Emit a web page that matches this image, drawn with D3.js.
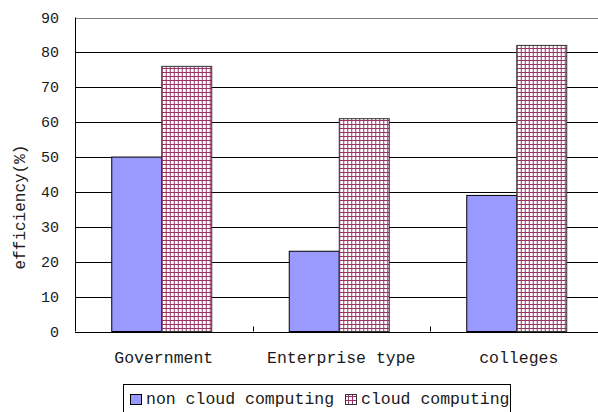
<!DOCTYPE html>
<html lang="en">
<head>
  <meta charset="UTF-8">
  <title>Efficiency chart</title>
  <script src="https://d3js.org/d3.v7.min.js"></script>
  <style>
    body { margin: 0; background: #fff; }
    svg { display: block; }
    text { font-family: "Liberation Mono", "DejaVu Sans Mono", monospace; fill: #1a1a1a; }
    .grid { stroke: #000; stroke-width: 1; shape-rendering: crispEdges; }
  </style>
</head>
<body>
  <div id="chart"></div>
  <script>
    const categories = ["Government", "Enterprise type", "colleges"];
    const seriesNames = ["non cloud computing", "cloud computing"];
    const nonCloud = [50, 23, 39];
    const cloud = [76, 61, 82];
    const yTicks = [0, 10, 20, 30, 40, 50, 60, 70, 80, 90];

    const width = 598, height = 412;
    const plot = { left: 75, top: 17.5, bottom: 331.5, right: 607.5 };

    const svg = d3.select("#chart").append("svg")
      .attr("width", width)
      .attr("height", height);

    const defs = svg.append("defs");
    const pat = defs.append("pattern")
      .attr("id", "grid")
      .attr("width", 4).attr("height", 4)
      .attr("patternUnits", "userSpaceOnUse");
    pat.append("rect").attr("width", 4).attr("height", 4).attr("fill", "#fff");
    pat.append("rect").attr("x", 0).attr("y", 0).attr("width", 4).attr("height", 1).attr("fill", "#993366");
    pat.append("rect").attr("x", 0).attr("y", 0).attr("width", 1).attr("height", 4).attr("fill", "#993366");

    const x = d3.scaleBand().domain(categories).range([plot.left, plot.right]).padding(0);
    const y = d3.scaleLinear().domain([0, 90]).range([plot.bottom, plot.top]);
    const barW = 50;

    // gridlines
    svg.selectAll(".grid")
      .data(yTicks.filter(d => d > 0 && d < 90))
      .enter().append("line")
      .attr("class", "grid")
      .attr("x1", plot.left).attr("x2", width)
      .attr("y1", d => Math.round(y(d)) + 0.5)
      .attr("y2", d => Math.round(y(d)) + 0.5);

    svg.append("line")
      .attr("x1", plot.left).attr("x2", width)
      .attr("y1", Math.round(y(90)) + 0.5).attr("y2", Math.round(y(90)) + 0.5)
      .attr("stroke", "#808080");

    // bars
    const groups = svg.selectAll(".cat")
      .data(categories)
      .enter().append("g")
      .attr("transform", d => `translate(${x(d) + x.bandwidth() / 2 - 2},0)`);

    groups.append("rect")
      .attr("x", -barW)
      .attr("y", (d, i) => y(nonCloud[i]))
      .attr("width", barW)
      .attr("height", (d, i) => plot.bottom - y(nonCloud[i]))
      .attr("fill", "#9999ff")
      .attr("stroke", "#000");

    groups.append("rect")
      .attr("x", 0)
      .attr("y", (d, i) => y(cloud[i]))
      .attr("width", barW)
      .attr("height", (d, i) => plot.bottom - y(cloud[i]))
      .attr("fill", "url(#grid)")
      .attr("stroke", "#333");

    // axes
    svg.append("line")
      .attr("x1", plot.left + 0.5).attr("x2", plot.left + 0.5)
      .attr("y1", plot.top).attr("y2", plot.bottom)
      .attr("stroke", "#000");
    svg.append("line")
      .attr("x1", plot.left).attr("x2", width)
      .attr("y1", Math.round(plot.bottom) + 0.5).attr("y2", Math.round(plot.bottom) + 0.5)
      .attr("stroke", "#000");

    svg.selectAll(".xtick")
      .data(categories.slice(1))
      .enter().append("line")
      .attr("x1", d => Math.round(x(d)) + 0.5).attr("x2", d => Math.round(x(d)) + 0.5)
      .attr("y1", plot.bottom - 5).attr("y2", plot.bottom)
      .attr("stroke", "#000");

    svg.selectAll(".ylab")
      .data(yTicks)
      .enter().append("text")
      .attr("x", 59)
      .attr("y", d => y(d) + 5)
      .attr("text-anchor", "end")
      .style("font-size", "15px")
      .text(d => d);

    svg.selectAll(".xlab")
      .data(categories)
      .enter().append("text")
      .attr("x", d => x(d) + x.bandwidth() / 2)
      .attr("y", 363)
      .attr("text-anchor", "middle")
      .style("font-size", "16.5px")
      .text(d => d);

    svg.append("text")
      .attr("transform", "translate(25,207) rotate(-90)")
      .attr("text-anchor", "middle")
      .style("font-size", "16px")
      .text("efficiency(%)");

    // legend
    const lg = svg.append("g");
    lg.append("rect")
      .attr("x", 123.5).attr("y", 384.5)
      .attr("width", 387).attr("height", 30)
      .attr("fill", "#fff").attr("stroke", "#000");
    lg.append("rect")
      .attr("x", 130.5).attr("y", 394.5).attr("width", 11).attr("height", 10)
      .attr("fill", "#9999ff").attr("stroke", "#000");
    lg.append("text").attr("x", 146).attr("y", 404).style("font-size", "16.5px").text(seriesNames[0]);
    lg.append("rect")
      .attr("x", 345.5).attr("y", 394.5).attr("width", 11).attr("height", 10)
      .attr("fill", "url(#grid)").attr("stroke", "#333");
    lg.append("text").attr("x", 361).attr("y", 404).style("font-size", "16.5px").text(seriesNames[1]);
  </script>
</body>
</html>
